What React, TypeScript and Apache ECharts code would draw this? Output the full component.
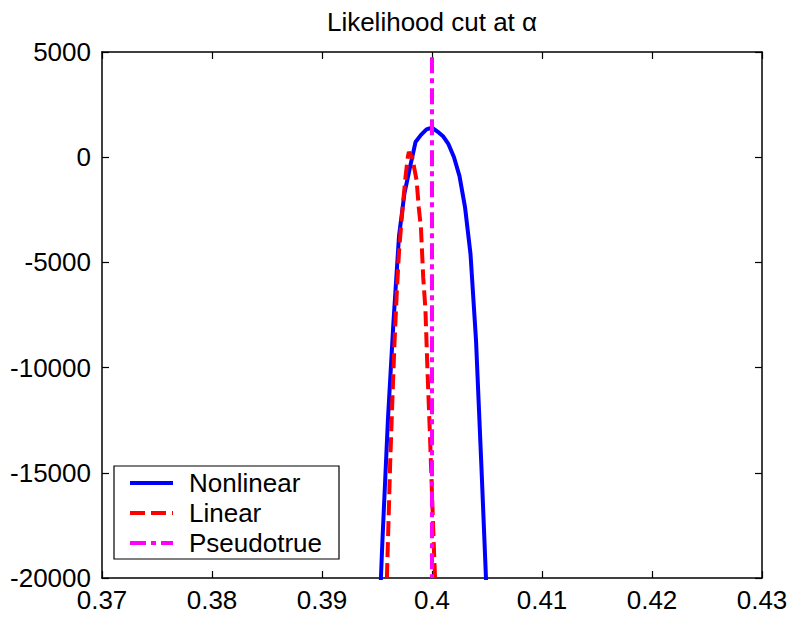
import React, { useEffect, useRef } from "react";
import * as echarts from "echarts";

const titleText = "Likelihood cut at α";
const seriesNames = ["Nonlinear", "Linear", "Pseudotrue"];
const seriesColors = ["#0000ff", "#ff0000", "#ff00ff"];
const seriesDash: (number[] | null)[] = [null, [15, 6], [16, 5, 5, 5]];

const xTicks = [0.37, 0.38, 0.39, 0.4, 0.41, 0.42, 0.43];
const yTicks = [-20000, -15000, -10000, -5000, 0, 5000];

const nonlinearX = [0.3952, 0.3955, 0.396, 0.3965, 0.397, 0.3975, 0.398, 0.3985, 0.399, 0.3995, 0.4, 0.4005, 0.401, 0.4015, 0.402, 0.4025, 0.403, 0.4035, 0.404, 0.4045, 0.405];
const nonlinearY = [-22000, -18150, -12400, -7800, -3750, -1700, -480, 720, 1060, 1320, 1410, 1220, 1000, 620, 0, -900, -2370, -4600, -8690, -14800, -21200];

const linearX = [0.3957, 0.3959, 0.3962, 0.3964, 0.3966, 0.3968, 0.397, 0.3972, 0.3974, 0.3976, 0.3978, 0.3979, 0.3982, 0.3984, 0.3986, 0.3988, 0.399, 0.3992, 0.3994, 0.3996, 0.3998, 0.4, 0.4002, 0.4004];
const linearY = [-23000, -20000, -14500, -11500, -8700, -6400, -4500, -3200, -2000, -900, 0, 250, 0, -550, -1100, -2400, -3400, -5700, -7200, -10300, -13000, -16000, -19000, -21500];

const pseudoX = [0.4, 0.4];
const pseudoY = [4750, -20000];

const FONT = "'Liberation Sans', Arial, Helvetica, sans-serif";
const FS = 26;

const zip = (xs: number[], ys: number[]) => xs.map((x, i) => [x, ys[i]]);

export default function App() {
  const ref = useRef<HTMLDivElement>(null);
  useEffect(() => {
    document.body.style.margin = "0";
    if (!ref.current) return;
    const chart = echarts.init(ref.current, null, { renderer: "svg" });
    const fmtX = (v: number) => String(Math.round(v * 100) / 100);
    const fmtY = (v: number) => String(Math.round(v));
    const baseX = {
      type: "value" as const,
      min: xTicks[0],
      max: xTicks[xTicks.length - 1],
      interval: 0.01,
      splitLine: { show: false },
      axisLine: { show: true, onZero: false, lineStyle: { color: "#000", width: 1.5 } },
      axisTick: { show: true, inside: true, length: 7, lineStyle: { color: "#000", width: 1.2 } },
    };
    const baseY = {
      type: "value" as const,
      min: yTicks[0],
      max: yTicks[yTicks.length - 1],
      interval: 5000,
      splitLine: { show: false },
      axisLine: { show: true, onZero: false, lineStyle: { color: "#000", width: 1.5 } },
      axisTick: { show: true, inside: true, length: 7, lineStyle: { color: "#000", width: 1.2 } },
    };

    // legend box drawn as graphic
    const legendLeft = 114;
    const legendTop = 466;
    const legendW = 225;
    const legendH = 93;
    const rowY = [483, 513, 543];
    const legendItems: any[] = [
      {
        type: "rect",
        shape: { x: legendLeft, y: legendTop, width: legendW, height: legendH },
        style: { fill: "#fff", stroke: "#000", lineWidth: 1.2 },
        z: 100,
      },
    ];
    seriesNames.forEach((name, i) => {
      legendItems.push({
        type: "line",
        shape: { x1: 130, y1: rowY[i], x2: 173, y2: rowY[i] },
        style: {
          stroke: seriesColors[i],
          lineWidth: 4,
          lineDash: seriesDash[i] || undefined,
        },
        z: 101,
      });
      legendItems.push({
        type: "text",
        x: 189,
        y: rowY[i],
        style: {
          text: name,
          fontSize: FS,
          fontFamily: FONT,
          fill: "#000",
          textAlign: "left",
          textVerticalAlign: "middle",
        },
        z: 101,
      });
    });

    chart.setOption({
      animation: false,
      backgroundColor: "#fff",
      grid: { left: 102, right: 29, top: 52, bottom: 40, containLabel: false },
      graphic: [
        {
          type: "text",
          x: 432,
          y: 22,
          style: {
            text: titleText,
            fontSize: FS,
            fontFamily: FONT,
            fill: "#000",
            textAlign: "center",
            textVerticalAlign: "middle",
          },
        },
        ...legendItems,
      ],
      xAxis: [
        { ...baseX, position: "bottom", axisLabel: { fontSize: FS, fontFamily: FONT, color: "#000", margin: 9, formatter: fmtX } },
        { ...baseX, position: "top", axisLabel: { show: false } },
      ],
      yAxis: [
        { ...baseY, position: "left", axisLabel: { fontSize: FS, fontFamily: FONT, color: "#000", margin: 11, formatter: fmtY } },
        { ...baseY, position: "right", axisLabel: { show: false } },
      ],
      series: [
        {
          name: seriesNames[0],
          type: "line",
          data: zip(nonlinearX, nonlinearY),
          symbol: "none",
          color: seriesColors[0],
          lineStyle: { color: seriesColors[0], width: 4 },
          clip: true,
        },
        {
          name: seriesNames[1],
          type: "line",
          data: zip(linearX, linearY),
          symbol: "none",
          color: seriesColors[1],
          lineStyle: { color: seriesColors[1], width: 4, type: seriesDash[1] },
          clip: true,
        },
        {
          name: seriesNames[2],
          type: "line",
          data: zip(pseudoX, pseudoY),
          symbol: "none",
          color: seriesColors[2],
          lineStyle: { color: seriesColors[2], width: 4, type: seriesDash[2] },
          clip: true,
        },
      ],
    });
    return () => chart.dispose();
  }, []);
  return <div ref={ref} style={{ width: 791, height: 618 }} />;
}
